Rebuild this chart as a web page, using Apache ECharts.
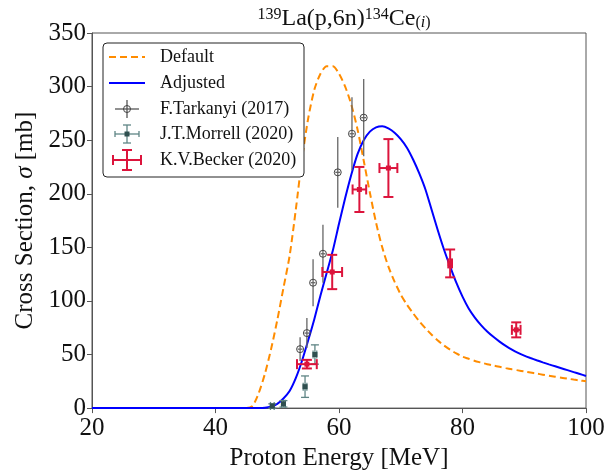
<!DOCTYPE html>
<html><head><meta charset="utf-8">
<script src="https://cdn.jsdelivr.net/npm/echarts@6/dist/echarts.min.js"></script>
<style>html,body{margin:0;padding:0;background:#fff}#c{width:614px;height:476px}</style>
</head><body><div id="c"></div>
<script>
// Model curves (MeV, mb)
var defaultX = [20,30,40,44,45,46,47,48,49,50,51,52,53,54,55,56,57,58,59,60,61,62,63,64,65,66,67,68,69,70,71,72,73,74,75,76,77,78,79,80,81,82,83,84,85,86,87,88,89,90,91,92,93,94,95,96,97,98,99,100];
var defaultY = [0,0,0,0,0,2,14,32,55,82,112,142,185,232,270,297,312,319,319,312,300,283,260,231,201,173,150,132,118,106,96.5,88.5,81,74.5,68.5,63,58.5,54.5,51,48,46,44,42.5,41,39.7,38.5,37.3,36.2,35.2,34.2,33.2,32.2,31.2,30.2,29.3,28.4,27.5,26.6,25.8,25];
var adjustedX = [20,30,40,46,47,48,49,50,51,52,53,54,55,56,57,58,59,60,61,62,63,64,65,66,67,68,69,70,71,72,73,74,75,76,77,78,79,80,81,82,83,84,85,86,87,88,89,90,91,92,93,94,95,96,97,98,99,100];
var adjustedY = [0,0,0,0,0,0.3,1.5,4,9,16,28,44,63,83,105,126,147,172,196,218,237,250,258,262,263,261,257,251,243,232,219,204,185,166,148,132,117,104,93,84.5,77.5,71.5,66.5,62,58,54.5,51.5,49,46.8,44.7,42.7,40.8,39,37.2,35.4,33.6,31.8,30];
// Experimental data
var tarkX = [53.7,54.8,55.8,57.4,59.8,62.1,64.0];
var tarkY = [55,70,117,144,220,256,271];
var tarkYerr = [11,14,22,27,33,34,36];
var tarkXerr = [0.4,0.4,0.4,0.4,0.4,0.4,0.4];
var morrX = [49.2,51.0,54.5,56.1];
var morrY = [2,4,20,50];
var morrYerr = [2,3,10,9];
var morrXerr = [0.3,0.3,0.3,0.3];
var beckX = [54.8,58.9,63.3,68.0,78.0,88.7];
var beckY = [41,127,204,224,135,73];
var beckYerr = [4,16,21,27,13,7];
var beckXerr = [1.6,1.6,1.1,1.45,0.3,0.7];
var xTicks = [20,40,60,80,100];
var yTicks = [0,50,100,150,200,250,300,350];

var FONT = '"Liberation Serif","DejaVu Serif",serif';
function zip(a,b){return a.map(function(v,i){return [v,b[i]];});}
function pts(x,y,ye,xe){return x.map(function(v,i){return [v,y[i],ye[i],xe[i]];});}

function errRender(st){
  return function(params, api){
    var x=api.value(0), y=api.value(1), ye=api.value(2), xe=api.value(3);
    var c=api.coord([x,y]), t=api.coord([x,y+ye]), b=api.coord([x,y-ye]);
    var l=api.coord([x-xe,y]), r=api.coord([x+xe,y]);
    var ls={stroke:st.bar, lineWidth:st.lw};
    var ch=[
      {type:'line',shape:{x1:t[0],y1:t[1],x2:b[0],y2:b[1]},style:ls},
      {type:'line',shape:{x1:l[0],y1:l[1],x2:r[0],y2:r[1]},style:ls}
    ];
    if(st.cap){
      var k=st.cap;
      ch.push({type:'line',shape:{x1:t[0]-k,y1:t[1],x2:t[0]+k,y2:t[1]},style:ls});
      ch.push({type:'line',shape:{x1:b[0]-k,y1:b[1],x2:b[0]+k,y2:b[1]},style:ls});
      ch.push({type:'line',shape:{x1:l[0],y1:l[1]-k,x2:l[0],y2:l[1]+k},style:ls});
      ch.push({type:'line',shape:{x1:r[0],y1:r[1]-k,x2:r[0],y2:r[1]+k},style:ls});
    }
    if(st.marker==='circle'){
      ch.push({type:'circle',shape:{cx:c[0],cy:c[1],r:3.5},style:{fill:'none',stroke:st.mk,lineWidth:1}});
    } else if(st.marker==='square'){
      ch.push({type:'rect',shape:{x:c[0]-2.5,y:c[1]-2.5,width:5,height:5},style:{fill:st.mk}});
    }
    return {type:'group',children:ch};
  };
}

var chart = echarts.init(document.getElementById('c'), null, {renderer:'canvas'});

// legend drawn as graphics
var LX=103, LY=43;
var rows=[57,83,109,134,160];
var sx1=109, sx2=145, scx=127;
var g=[
  {type:'rect',shape:{x:LX,y:LY,width:201,height:134,r:4},style:{fill:'#fff',stroke:'#222',lineWidth:1},z:10},
  {type:'line',shape:{x1:sx1,y1:rows[0],x2:sx2,y2:rows[0]},style:{stroke:'#ff8c00',lineWidth:2,lineDash:[7,4]},z:11},
  {type:'line',shape:{x1:sx1,y1:rows[1],x2:sx2,y2:rows[1]},style:{stroke:'#0000ff',lineWidth:2},z:11},
  {type:'line',shape:{x1:sx1+6,y1:rows[2],x2:sx2-6,y2:rows[2]},style:{stroke:'#555',lineWidth:1.3},z:11},
  {type:'line',shape:{x1:scx,y1:rows[2]-9,x2:scx,y2:rows[2]+9},style:{stroke:'#555',lineWidth:1.3},z:11},
  {type:'circle',shape:{cx:scx,cy:rows[2],r:3.5},style:{fill:'none',stroke:'#444',lineWidth:1},z:11},
  {type:'line',shape:{x1:sx1+6,y1:rows[3],x2:sx2-6,y2:rows[3]},style:{stroke:'#5f8585',lineWidth:1.3},z:11},
  {type:'line',shape:{x1:scx,y1:rows[3]-9,x2:scx,y2:rows[3]+9},style:{stroke:'#5f8585',lineWidth:1.3},z:11},
  {type:'line',shape:{x1:scx-4,y1:rows[3]-9,x2:scx+4,y2:rows[3]-9},style:{stroke:'#5f8585',lineWidth:1.3},z:11},
  {type:'line',shape:{x1:scx-4,y1:rows[3]+9,x2:scx+4,y2:rows[3]+9},style:{stroke:'#5f8585',lineWidth:1.3},z:11},
  {type:'line',shape:{x1:sx1+6,y1:rows[3]-3,x2:sx1+6,y2:rows[3]+3},style:{stroke:'#5f8585',lineWidth:1.3},z:11},
  {type:'line',shape:{x1:sx2-6,y1:rows[3]-3,x2:sx2-6,y2:rows[3]+3},style:{stroke:'#5f8585',lineWidth:1.3},z:11},
  {type:'rect',shape:{x:scx-2.5,y:rows[3]-2.5,width:5,height:5},style:{fill:'#2f4f4f'},z:11},
  {type:'line',shape:{x1:sx1+4,y1:rows[4],x2:sx2-4,y2:rows[4]},style:{stroke:'#dc143c',lineWidth:2},z:11},
  {type:'line',shape:{x1:scx,y1:rows[4]-10,x2:scx,y2:rows[4]+10},style:{stroke:'#dc143c',lineWidth:2},z:11},
  {type:'line',shape:{x1:scx-5,y1:rows[4]-10,x2:scx+5,y2:rows[4]-10},style:{stroke:'#dc143c',lineWidth:2},z:11},
  {type:'line',shape:{x1:scx-5,y1:rows[4]+10,x2:scx+5,y2:rows[4]+10},style:{stroke:'#dc143c',lineWidth:2},z:11},
  {type:'line',shape:{x1:sx1+4,y1:rows[4]-5,x2:sx1+4,y2:rows[4]+5},style:{stroke:'#dc143c',lineWidth:2},z:11},
  {type:'line',shape:{x1:sx2-4,y1:rows[4]-5,x2:sx2-4,y2:rows[4]+5},style:{stroke:'#dc143c',lineWidth:2},z:11}
];
var names=['Default','Adjusted','F.Tarkanyi (2017)','J.T.Morrell (2020)','K.V.Becker (2020)'];
names.forEach(function(n,i){
  g.push({type:'text',x:160,y:rows[i],style:{text:n,font:'18px '+FONT,fill:'#111',verticalAlign:'middle',align:'left'},z:11});
});

chart.setOption({
  animation:false,
  backgroundColor:'#fff',
  title:{
    text:'{sup|139}{n|La(p,6n)}{sup|134}{n|Ce}{sub|(}{subi|i}{sub|)}',
    left:339, top:2, textAlign:'center',
    textStyle:{
      fontWeight:'normal',
      rich:{
        n:{fontFamily:FONT,fontSize:24,fontWeight:'normal',color:'#111',lineHeight:24,verticalAlign:'middle'},
        sup:{fontFamily:FONT,fontSize:16,fontWeight:'normal',color:'#111',lineHeight:16,verticalAlign:'top'},
        sub:{fontFamily:FONT,fontSize:16,fontWeight:'normal',color:'#111',lineHeight:16,verticalAlign:'bottom'},
        subi:{fontFamily:FONT,fontSize:16,fontWeight:'normal',fontStyle:'italic',color:'#111',lineHeight:16,verticalAlign:'bottom'}
      }
    }
  },
  grid:{left:92,right:28,top:33,bottom:65,show:true,borderColor:'#555',borderWidth:1,backgroundColor:'transparent'},
  xAxis:{
    type:'value',min:20,max:100,interval:20,
    name:'Proton Energy [MeV]',nameLocation:'middle',nameGap:37,
    nameTextStyle:{fontFamily:FONT,fontSize:25,color:'#111'},
    axisLine:{show:true,lineStyle:{color:'#555'}},
    axisTick:{show:true,inside:false,length:5,lineStyle:{color:'#555'}},
    axisLabel:{fontFamily:FONT,fontSize:25,color:'#111',margin:8,
      formatter:function(v){return xTicks.indexOf(v)>=0?String(v):'';}},
    splitLine:{show:false}
  },
  yAxis:{
    type:'value',min:0,max:350,interval:50,
    name:'{a|Cross Section, }{i|σ}{a| [mb]}',nameLocation:'middle',nameGap:47,
    nameTextStyle:{rich:{a:{fontFamily:FONT,fontSize:25,color:'#111'},i:{fontFamily:FONT,fontSize:25,fontStyle:'italic',color:'#111'}}},
    axisLine:{show:true,lineStyle:{color:'#555'}},
    axisTick:{show:true,inside:false,length:5,lineStyle:{color:'#555'}},
    axisLabel:{fontFamily:FONT,fontSize:25,color:'#111',margin:6,
      formatter:function(v){return yTicks.indexOf(v)>=0?String(v):'';}},
    splitLine:{show:false}
  },
  graphic:g,
  series:[
    {name:'Default',type:'line',data:zip(defaultX,defaultY),smooth:0.25,showSymbol:false,
      lineStyle:{color:'#ff8c00',width:2,type:[7,4]},z:3},
    {name:'Adjusted',type:'line',data:zip(adjustedX,adjustedY),smooth:0.25,showSymbol:false,
      lineStyle:{color:'#0000ff',width:2},z:4},
    {name:'F.Tarkanyi (2017)',type:'custom',data:pts(tarkX,tarkY,tarkYerr,tarkXerr),encode:{x:0,y:1},
      renderItem:errRender({bar:'#666',lw:1.3,cap:0,marker:'circle',mk:'#444'}),z:5},
    {name:'J.T.Morrell (2020)',type:'custom',data:pts(morrX,morrY,morrYerr,morrXerr),encode:{x:0,y:1},
      renderItem:errRender({bar:'#5f8585',lw:1.3,cap:4,marker:'square',mk:'#2f4f4f'}),z:5},
    {name:'K.V.Becker (2020)',type:'custom',data:pts(beckX,beckY,beckYerr,beckXerr),encode:{x:0,y:1},
      renderItem:errRender({bar:'#dc143c',lw:2,cap:5,marker:'square',mk:'#dc143c'}),z:6}
  ]
});
</script></body></html>
